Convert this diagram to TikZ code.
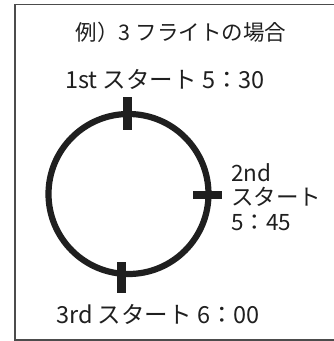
\documentclass[tikz,border=0pt]{standalone}
\usepackage{fontspec}
\setmainfont{Noto Sans CJK JP}
\begin{document}
\begin{tikzpicture}[x=1pt,y=-1pt,
  ink/.style={draw=black!88},
  lbl/.style={inner sep=0pt,text=black!88,font=\fontsize{23.5}{24.5}\selectfont},
  tickmark/.style={draw=black!88,line width=8.8pt}]
\useasboundingbox (0,0) rectangle (334,341);
\clip (0,0) rectangle (334,341);
\draw[draw=black!70,line width=1.6pt] (15,4.5) rectangle (345,340);
\node[lbl,font=\fontsize{21.5}{24}\selectfont] (title) at (181,32) {例）3 フライトの場合};
\node[lbl] (l1) at (165,79) {1st スタート 5：30};
\node[lbl,align=left,anchor=west,font=\fontsize{22.5}{24.5}\selectfont] (l2) at (231,197) {2nd\\スタート\\5：45};
\node[lbl] (l3) at (158,314) {3rd スタート 6：00};
\node[ink,circle,line width=6.2pt,minimum size=160pt,inner sep=0pt] (c) at (128.5,194) {};
\draw[tickmark] (127.5,97) -- (127.5,130);
\draw[tickmark] (193,195) -- (222,195);
\draw[tickmark] (121.5,262) -- (121.5,293);
\end{tikzpicture}
\end{document}
